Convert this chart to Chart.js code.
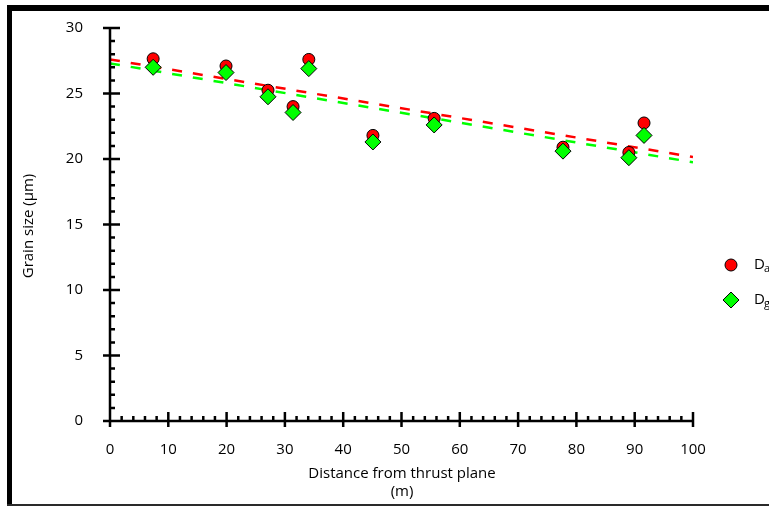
<!DOCTYPE html>
<html>
<head>
<meta charset="utf-8">
<script src="https://cdn.jsdelivr.net/npm/chart.js@4/dist/chart.umd.min.js"></script>
<style>
  html, body { margin: 0; padding: 0; background: #fff; }
  #wrap { width: 769px; height: 508px; }
</style>
</head>
<body>
<div id="wrap"><canvas id="c"></canvas></div>
<script>
// distance from thrust plane (m)
const distance = [7.4, 19.9, 27.1, 31.4, 34.1, 45.1, 55.6, 77.7, 89.0, 91.6];
// grain size (µm)
const grainDa = [27.65, 27.1, 25.25, 24.0, 27.6, 21.8, 23.1, 20.9, 20.5, 22.75];
const grainDg = [27.0, 26.6, 24.75, 23.55, 26.9, 21.3, 22.6, 20.6, 20.1, 21.8];
// trend lines, value at 0 m and 100 m
const trendX = [0, 100];
const trendDa = [27.6, 20.15];
const trendDg = [27.3, 19.75];

const xTicks = [0, 10, 20, 30, 40, 50, 60, 70, 80, 90, 100];
const yTicks = [0, 5, 10, 15, 20, 25, 30];

const FONT = '"Open Sans", sans-serif';

const pts = (xs, ys) => xs.map((x, i) => ({ x: x, y: ys[i] }));

// frame, hand-drawn axes with crossing ticks, titles and legend
const decor = {
  id: 'decor',
  beforeDraw(chart) {
    const ctx = chart.ctx;
    ctx.save();
    ctx.fillStyle = '#000';
    ctx.fillRect(7, 5, 770, 6);
    ctx.fillRect(7, 5, 5, 500);
    ctx.fillStyle = '#2a2a2a';
    ctx.fillRect(7, 504, 770, 2);
    ctx.restore();
  },
  afterDatasetsDraw(chart) {
    const ctx = chart.ctx;
    const xs = chart.scales.x, ys = chart.scales.y;
    const x0 = xs.getPixelForValue(0), x1 = xs.getPixelForValue(100);
    const y0 = ys.getPixelForValue(0), y1 = ys.getPixelForValue(30);
    ctx.save();
    ctx.strokeStyle = '#000';
    ctx.lineWidth = 2.5;
    ctx.beginPath();
    ctx.moveTo(x0, y1); ctx.lineTo(x0, y0 + 6);
    ctx.moveTo(x0 - 7, y0); ctx.lineTo(x1, y0);
    ctx.stroke();

    ctx.beginPath();
    for (let v = 0; v <= 30; v++) {
      const p = ys.getPixelForValue(v);
      if (v % 5 === 0) {
        if (v === 0) continue;
        ctx.moveTo(x0 - 7, p); ctx.lineTo(x0 + 10, p);
      } else {
        ctx.moveTo(x0, p); ctx.lineTo(x0 + 5, p);
      }
    }
    for (let v = 2; v <= 100; v += 2) {
      const p = xs.getPixelForValue(v);
      if (v % 10 === 0) {
        ctx.moveTo(p, y0 - 9); ctx.lineTo(p, y0 + 6);
      } else {
        ctx.moveTo(p, y0); ctx.lineTo(p, y0 - 5);
      }
    }
    ctx.stroke();

    // axis titles
    ctx.fillStyle = '#000';
    ctx.font = '15px ' + FONT;
    ctx.textAlign = 'center';
    ctx.textBaseline = 'middle';
    ctx.fillText('Distance from thrust plane', 402, 474);
    ctx.fillText('(m)', 402, 492);
    ctx.save();
    ctx.translate(29, 226);
    ctx.rotate(-Math.PI / 2);
    ctx.fillText('Grain size (\u03bcm)', 0, 0);
    ctx.restore();

    // legend
    const items = [
      { sub: 'a', y: 265, style: { pointStyle: 'circle', radius: 6, borderWidth: 1 }, color: '#ff0000' },
      { sub: 'g', y: 300, style: { pointStyle: 'rectRot', radius: 8, borderWidth: 1 }, color: '#00ff00' }
    ];
    items.forEach(it => {
      ctx.fillStyle = it.color;
      ctx.strokeStyle = '#000';
      ctx.lineWidth = 1;
      Chart.helpers.drawPoint(ctx, it.style, 731, it.y);
      ctx.fillStyle = '#000';
      ctx.textAlign = 'left';
      ctx.font = '15px ' + FONT;
      ctx.fillText('D', 754, it.y);
      ctx.font = '11px ' + FONT;
      ctx.fillText(it.sub, 764, it.y + 4);
    });
    ctx.restore();
  }
};

new Chart(document.getElementById('c'), {
  type: 'scatter',
  data: {
    datasets: [
      {
        label: 'Dg',
        data: pts(distance, grainDg),
        pointStyle: 'rectRot',
        pointRadius: 8,
        pointHoverRadius: 8,
        backgroundColor: '#00ff00',
        borderColor: '#000',
        borderWidth: 1,
        order: 0
      },
      {
        label: 'Da',
        data: pts(distance, grainDa),
        pointStyle: 'circle',
        pointRadius: 6,
        pointHoverRadius: 6,
        backgroundColor: '#ff0000',
        borderColor: '#000',
        borderWidth: 1,
        order: 1
      },
      {
        type: 'line',
        data: pts(trendX, trendDg),
        borderColor: '#00ff00',
        borderWidth: 2.5,
        borderDash: [10, 11],
        pointRadius: 0,
        order: 2
      },
      {
        type: 'line',
        data: pts(trendX, trendDa),
        borderColor: '#ff0000',
        borderWidth: 2.5,
        borderDash: [10, 11],
        pointRadius: 0,
        order: 3
      }
    ]
  },
  options: {
    responsive: true,
    maintainAspectRatio: false,
    animation: false,
    layout: { padding: { left: 0, right: 76, top: 23, bottom: 0 } },
    plugins: { legend: { display: false }, tooltip: { enabled: false } },
    scales: {
      x: {
        type: 'linear',
        min: 0, max: 100,
        afterFit: s => { s.height = 87; },
        afterBuildTicks: s => { s.ticks = xTicks.map(v => ({ value: v })); },
        grid: { display: false },
        border: { display: false },
        ticks: { color: '#000', font: { family: FONT, size: 15 }, padding: 12, maxRotation: 0 }
      },
      y: {
        type: 'linear',
        min: 0, max: 30,
        afterFit: s => { s.width = 110; },
        afterBuildTicks: s => { s.ticks = yTicks.map(v => ({ value: v })); },
        grid: { display: false },
        border: { display: false },
        ticks: { color: '#000', font: { family: FONT, size: 15 }, padding: 19 }
      }
    }
  },
  plugins: [decor]
});
</script>
</body>
</html>
